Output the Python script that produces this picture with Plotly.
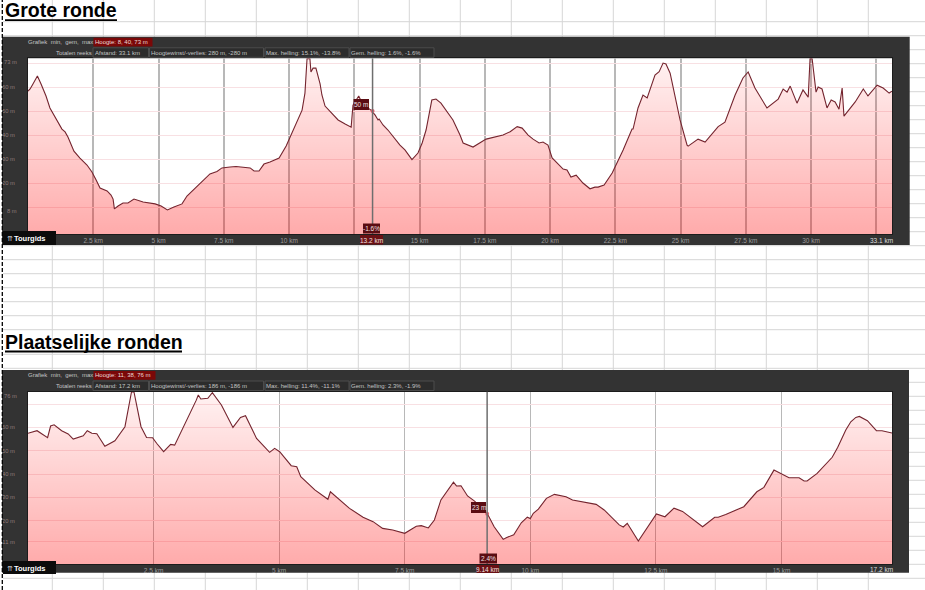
import plotly.graph_objects as go

W, H = 925, 590

# ---------- Grote ronde ----------
km_grote = [0,.08,.19,.36,.50,.69,.84,1.00,1.15,1.30,1.42,1.53,1.76,1.99,2.26,2.45,2.61,2.76,3.03,3.18,
            3.26,3.31,3.45,3.64,3.83,4.06,4.41,4.87,5.10,5.34,5.59,5.90,6.09,6.48,6.97,7.24,7.43,7.74,7.97,8.51,
            8.66,8.85,9.04,9.27,9.62,9.89,10.11,10.31,10.50,10.61,10.69,10.80,10.84,10.92,11.03,11.19,11.26,11.38,11.65,11.88,
            12.15,12.38,12.45,12.53,12.67,12.80,12.91,13.14,13.30,13.41,13.45,13.60,13.79,14.25,14.44,14.71,14.94,15.10,15.25,15.47,
            15.63,15.82,16.13,16.28,16.55,16.67,17.05,17.55,18.20,18.47,18.74,18.93,19.16,19.35,19.58,19.73,19.92,20.08,20.50,20.65,
            20.80,21.00,21.26,21.53,21.72,21.84,22.07,22.38,22.80,23.14,23.18,23.37,23.56,23.72,24.02,24.18,24.33,24.44,24.60,24.98,
            25.25,25.29,25.67,25.94,26.44,26.70,27.09,27.39,27.59,27.85,28.31,28.74,28.93,29.08,29.20,29.46,29.69,29.89,29.96,30.04,
            30.19,30.27,30.42,30.61,30.77,30.92,31.07,31.19,31.26,31.69,32.0,32.18,32.53,32.76,32.99,33.1]
m_grote = [58.3,59.2,61.3,64.6,61.3,56.3,51.3,48.3,45,42.5,41.3,39.2,33.3,30.4,27.5,24.6,21.3,17.9,16.7,15,
           13.3,9.2,10.4,11.7,11.7,13.3,12.1,11.3,10.4,8.8,10,11.3,14.6,18.8,23.8,24.8,26.3,26.7,26.9,26.3,
           25,25,27.9,28.8,30.4,35.4,40.8,45.4,50.4,57.5,71.8,71.8,66.3,67.9,67.9,61.3,56.7,52.1,48.8,46.3,
           44.6,43.3,52.5,53.8,56.3,53.3,52.1,50.4,48.3,46.3,46.7,44.2,42.1,35.8,33.8,29.8,32.5,36.7,42.1,54.6,
           55,53.3,48.3,46.3,40,36.7,35,38.3,40,41.4,43.5,42.9,40,38.3,36.7,37.1,35.8,30.5,25.8,25.4,
           22.5,23.3,20,17.6,18.3,18.3,19.2,24.2,33.8,42.5,42.5,51.3,56.7,55.5,65,66.4,70,69.6,65.8,46.3,
           35.8,35.4,38.3,37.1,43.5,45.4,56.7,63.8,66.3,59.6,51.3,55,59.2,57.9,60.4,53.3,58.8,55.8,71.8,71.8,
           57.9,60,59.2,51.3,54.6,53.8,50.8,59.6,47.9,53.8,59.2,56.3,60.8,59.6,57.5,58.3]
xticks_grote = [2.5,5,7.5,10,12.5,15,17.5,20,22.5,25,27.5,30,32.5]
xlabels_grote = ["2.5 km","5 km","7.5 km","10 km","","15 km","17.5 km","20 km","22.5 km","25 km","27.5 km","30 km",""]
yticks_grote = [10,20,30,40,50,60,70]
ylabels_grote = ["","20 m","30 m","40 m","50 m","60 m",""]
yrange_grote = [-1.25, 72.0]
cursor_grote = (13.2, 50)

# ---------- Plaatselijke ronden ----------
km_plaats = [0,.18,.39,.45,.52,.67,.80,.90,1.10,1.18,1.27,1.37,1.53,1.73,1.93,2.01,2.06,2.11,2.16,2.25,
             2.36,2.48,2.56,2.70,2.84,2.92,3.35,3.39,3.44,3.58,3.67,3.85,4.08,4.23,4.33,4.55,4.81,4.91,5.01,5.13,
             5.24,5.35,5.43,5.71,5.97,6.02,6.40,6.67,6.87,7.06,7.26,7.50,7.73,7.83,7.97,8.09,8.22,8.47,8.53,8.62,
             8.75,8.89,9.14,9.28,9.46,9.52,9.67,9.82,9.94,10.0,10.06,10.16,10.32,10.48,10.71,10.84,11.31,11.47,11.77,11.85,
             11.93,12.15,12.51,12.68,12.86,13.03,13.43,13.67,13.74,13.89,14.25,14.51,14.65,14.85,15.15,15.35,15.45,15.51,15.71,16.01,
             16.12,16.28,16.38,16.48,16.55,16.71,16.89,17.0,17.2]
m_plaats = [57.5,58.6,55.6,60.6,61.1,58.6,57.2,55,56.4,58.6,57.5,57.3,51.9,54.3,60.3,70.3,75.2,75.2,69.6,60.3,
            55.7,55.6,53.2,49.6,52.7,52.4,71.7,73.9,72.2,72.5,74.9,69.6,60,64.3,65,55.3,49.3,51,49.6,46.3,
            43.6,43.1,38.9,33.2,29.2,32.4,25.3,21.5,19.6,16.7,16,14.6,17.6,17.9,16.9,20.3,28.9,36.5,34.9,35,
            30.6,28.4,23.2,17.4,12,12.7,14,19.1,21.5,20.9,23.2,25,29.6,31.3,30.3,28.9,27,24.6,18.2,17.3,
            18.9,11.3,22.9,21.7,25.4,24,17.4,21.5,21.5,22.7,26,32.4,34.3,41.7,38.4,38.4,37,37,40.3,47.2,
            51.5,58.9,62.4,64.3,64.7,62.9,58.6,58.6,57.6]
xticks_plaats = [2.5,5,7.5,10,12.5,15]
xlabels_plaats = ["2.5 km","5 km","7.5 km","10 km","12.5 km","15 km"]
yticks_plaats = [11,20,30,40,50,60,70]
ylabels_plaats = ["11 m","20 m","30 m","40 m","50 m","60 m",""]
yrange_plaats = [1.44, 75.4]
cursor_plaats = (9.14, 23)

LINE = "#74242e"
DARK = "#333333"


def px(x):
    return x / W


def py(y):
    return 1 - y / H


fig = go.Figure()
shapes, notes = [], []


def rect(x0, y0, x1, y1, fill, line=None, layer="below"):
    shapes.append(dict(type="rect", xref="paper", yref="paper", x0=px(x0), x1=px(x1), y0=py(y0), y1=py(y1),
                       fillcolor=fill, line=dict(color=line or fill, width=1 if line else 0), layer=layer))


def label(x, y, text, size=6, color="#c4c4c4", anchor="left", bg=None, bold=False, **kw):
    notes.append(dict(xref="paper", yref="paper", x=px(x), y=py(y), text=f"<b>{text}</b>" if bold else text,
                      showarrow=False, xanchor=anchor, yanchor="middle", bgcolor=bg, borderpad=0, borderwidth=0,
                      font=dict(size=size, color=color, family="Liberation Sans, Arial, sans-serif", **kw)))


# spreadsheet cell lines behind everything
for i in range(17):
    vx = 52.3 + 51 * i
    shapes.append(dict(type="line", xref="paper", yref="paper", x0=px(vx), x1=px(vx), y0=0, y1=1,
                       line=dict(color="#d6d6d6", width=1), layer="below"))
rows = [21.7 + 14 * i for i in range(23)] + [354.3 + 14 * i for i in range(17)]
for ry in rows:
    shapes.append(dict(type="line", xref="paper", yref="paper", x0=px(3), x1=1, y0=py(ry), y1=py(ry),
                       line=dict(color="#d6d6d6", width=1), layer="below"))

# dark chart panels with their white plot areas
rect(2, 36.7, 909.7, 245, DARK)
rect(2, 370, 909, 572.7, DARK)
rect(28, 58.3, 892, 234, "#ffffff")
rect(28, 391.5, 892, 564, "#ffffff")


def panel(idx, km, m, xticks, xlabels, yticks, ylabels, yrange, top, bottom, cursor, grid_w):
    xa, ya = ("x", "y") if idx == 1 else ("x2", "y2")
    total = km[-1]
    fig.add_trace(go.Scatter(x=[0, total], y=[yrange[0], yrange[0]], mode="lines", line=dict(width=0),
                             xaxis=xa, yaxis=ya, showlegend=False, hoverinfo="skip"))
    fig.add_trace(go.Scatter(x=km, y=m, mode="lines", line=dict(color=LINE, width=1.1), fill="tonexty",
                             fillgradient=dict(type="vertical",
                                               colorscale=[[0, "rgba(255,0,0,0.33)"], [1, "rgba(255,0,0,0.05)"]]),
                             xaxis=xa, yaxis=ya, showlegend=False))
    fig.add_trace(go.Scatter(x=[cursor[0]], y=[cursor[1]], mode="markers",
                             marker=dict(size=4, color="#e0606e"), xaxis=xa, yaxis=ya, showlegend=False))
    name = "" if idx == 1 else "2"
    common = dict(showline=True, mirror=True, linecolor="#1c1c1c", linewidth=1, ticks="", zeroline=False)
    fig.update_layout(**{
        f"xaxis{name}": dict(domain=[px(28), px(892)], range=[0, total], anchor=ya, tickmode="array",
                             tickvals=xticks, ticktext=xlabels, showgrid=True, gridcolor="#b8b8b8", gridwidth=grid_w,
                             tickfont=dict(size=6.5, color="#9c9c9c", family="Liberation Sans, Arial"),
                             tickangle=0, **common),
        f"yaxis{name}": dict(domain=[py(bottom), py(top)], range=yrange, anchor=xa, tickmode="array",
                             tickvals=yticks, ticktext=ylabels, showgrid=True, gridcolor="#f8e0e3", gridwidth=1.2,
                             tickfont=dict(size=5.8, color="#8f7b7b", family="Liberation Sans, Arial"),
                             ticklabelstandoff=11, **common),
    })
    shapes.append(dict(type="line", xref=xa, yref=ya, x0=cursor[0], x1=cursor[0], y0=yrange[0], y1=yrange[1],
                       line=dict(color="#6e6e6e", width=1.5), layer="above"))


panel(1, km_grote, m_grote, xticks_grote, xlabels_grote, yticks_grote, ylabels_grote, yrange_grote, 58.3, 234, cursor_grote, 1.5)
panel(2, km_plaats, m_plaats, xticks_plaats, xlabels_plaats, yticks_plaats, ylabels_plaats, yrange_plaats, 391.5, 564, cursor_plaats, 1)


def header(y0, red_w, hoogte, afstand, winst, maxh, gem):
    rect(93.5, y0 + 0.8, 93.5 + red_w, y0 + 9.5, "#7a0808", layer="above")
    for a, b in [(93, 148.5), (149.5, 263.5), (265, 349), (350, 434)]:
        rect(a, y0 + 10.8, b, y0 + 20.3, "#2c2c2c", "#4c4c4c", layer="above")
    label(28, y0 + 5.2, "Grafiek&nbsp;&nbsp;min,&nbsp;&nbsp;gem,&nbsp;&nbsp;max")
    label(56, y0 + 15.6, "Totalen reeks")
    label(95, y0 + 5.2, hoogte, color="#ecd8d8")
    label(95, y0 + 15.6, afstand)
    label(151, y0 + 15.6, winst)
    label(266, y0 + 15.6, maxh)
    label(351, y0 + 15.6, gem)


header(37, 59, "Hoogte: 8, 40, 73 m", "Afstand: 33.1 km", "Hoogtewinst/-verlies: 280 m, -280 m",
       "Max. helling: 15.1%, -13.8%", "Gem. helling: 1.6%, -1.6%")
header(370.2, 62, "Hoogte: 11, 38, 76 m", "Afstand: 17.2 km", "Hoogtewinst/-verlies: 186 m, -186 m",
       "Max. helling: 11.4%, -11.1%", "Gem. helling: 2.3%, -1.9%")

# extreme labels on the value axes
label(17, 62, "73 m", size=5.8, color="#8f7b7b", anchor="right")
label(17, 211, "8 m", size=5.8, color="#8f7b7b", anchor="right")
label(17, 396, "76 m", size=5.8, color="#8f7b7b", anchor="right")

# distance end labels
label(893, 240, "33.1 km", size=6.5, color="#dddddd", anchor="right")
label(893, 569.5, "17.2 km", size=6.5, color="#dddddd", anchor="right")

# cursor read-outs
rect(353.5, 99, 369, 110, "#5a0c12", layer="above")
label(361, 104.5, "50 m", size=6.5, color="#f0e0e0", anchor="center")
rect(363, 223.5, 380, 233.5, "#5a0c12", layer="above")
label(371.5, 228.5, "-1.6%", size=6.5, color="#f0e0e0", anchor="center")
rect(360, 235, 383, 244.5, "#6a1014", layer="above")
label(371.5, 240, "13.2 km", size=6.5, color="#f0e0e0", anchor="center")

rect(471, 502, 486, 513, "#5a0c12", layer="above")
label(478.5, 507.5, "23 m", size=6.5, color="#f0e0e0", anchor="center")
rect(479.5, 553.5, 497, 563.5, "#5a0c12", layer="above")
label(488, 558.5, "2.4%", size=6.5, color="#f0e0e0", anchor="center")
rect(476.5, 565, 499, 573, "#6a1014", layer="above")
label(487.5, 569.3, "9.14 km", size=6.5, color="#f0e0e0", anchor="center")

# brand tabs
for y0, y1, ty in [(231, 245, 238.5), (561, 574, 568)]:
    rect(3, y0, 56, y1, "#0c0c0c", layer="above")
    label(7, ty, "⇈", size=7, color="#dddddd")
    label(14, ty, "Tourgids", size=7.5, color="#ffffff", bold=True)

# section titles with their heavy underlines
label(5, 9.5, "Grote ronde", size=19.5, color="#000000", bold=True)
rect(5, 19.2, 117, 20.9, "#000000", layer="above")
label(5, 342, "Plaatselijke ronden", size=19.5, color="#000000", bold=True)
rect(5, 350.4, 182, 352.4, "#000000", layer="above")

# page-break marker on the left
shapes.append(dict(type="line", xref="paper", yref="paper", x0=px(2.3), x1=px(2.3), y0=0, y1=1,
                   line=dict(color="#000000", width=1.3, dash="4px,2px"), layer="above"))

fig.update_layout(width=W, height=H, margin=dict(l=0, r=0, t=0, b=0, autoexpand=False), paper_bgcolor="#ffffff",
                  plot_bgcolor="#ffffff", showlegend=False, shapes=shapes, annotations=notes)

fig.write_html("out.html", post_script="document.body.style.margin='0';document.body.style.overflow='hidden';",
               config=dict(displayModeBar=False))
